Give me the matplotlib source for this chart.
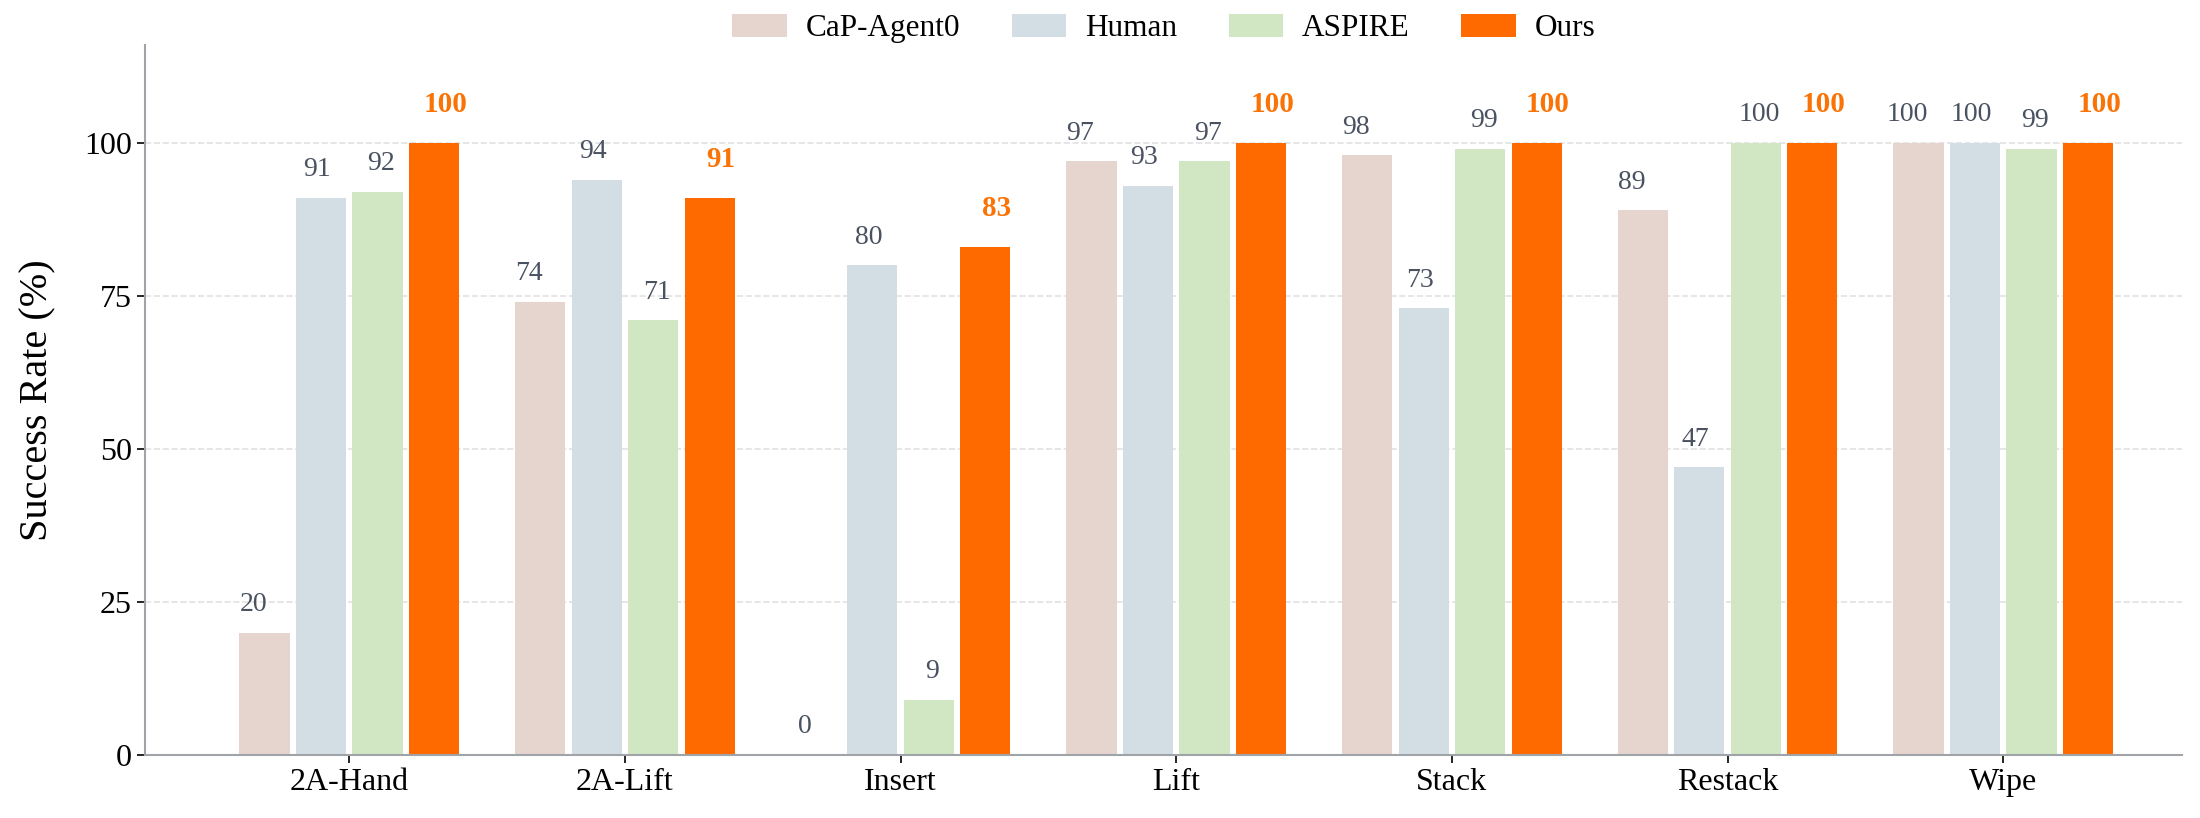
import numpy as np
import matplotlib.pyplot as plt

plt.rcParams['font.family'] = ['Liberation Serif', 'DejaVu Serif']

tasks = ['2A-Hand', '2A-Lift', 'Insert', 'Lift', 'Stack', 'Restack', 'Wipe']
methods = ['CaP-Agent0', 'Human', 'ASPIRE', 'Ours']
cap_agent0 = [20, 74, 0, 97, 98, 89, 100]
human = [91, 94, 80, 93, 73, 47, 100]
aspire = [92, 71, 9, 97, 99, 100, 99]
ours = [100, 91, 83, 100, 100, 100, 100]

colors = ['#e6d5cf', '#d3dde4', '#d1e6c3', '#ff6a00']
label_gray = '#4a5261'
orange_txt = '#f97306'

series = [cap_agent0, human, aspire, ours]
x = np.arange(len(tasks))
pitch = 0.205
width = 0.182

fig, ax = plt.subplots(figsize=(22, 8.18), dpi=100)
fig.subplots_adjust(left=0.066, right=0.992, bottom=0.077, top=0.945)

for i, (vals, name) in enumerate(zip(series, methods)):
    off = (i - 1.5) * pitch
    ax.bar(x + off, vals, width, color=colors[i], label=name, zorder=2)
    for xi, v in zip(x, vals):
        tx = xi + (i - 1.5) * 0.232
        if i == 3:
            ax.text(tx, v + 6.3, str(v), ha='center', va='center', fontsize=21,
                    fontweight='bold', color=orange_txt)
        else:
            ax.text(tx, v + 4.6, str(v), ha='center', va='center', fontsize=20,
                    color=label_gray)

ax.set_xlim(-0.74, 6.65)
ax.set_ylim(0, 116)
ax.set_yticks([0, 25, 50, 75, 100])
ax.set_xticks(x)
ax.set_xticklabels(tasks)
ax.tick_params(axis='both', labelsize=23, length=6, width=1.2, color='black')
ax.set_ylabel('Success Rate (%)', fontsize=29, labelpad=20)

ax.yaxis.grid(True, linestyle='--', color='#e2e2e2', linewidth=1.2, zorder=0)
ax.set_axisbelow(True)
for s in ['top', 'right']:
    ax.spines[s].set_visible(False)
for s in ['left', 'bottom']:
    ax.spines[s].set_color('#a0a4a8')
    ax.spines[s].set_linewidth(1.5)

ax.legend(loc='center', bbox_to_anchor=(0.5, 1.023), ncol=4, frameon=False,
          fontsize=22.5, handlelength=1.75, handleheight=0.75, handletextpad=0.6,
          columnspacing=1.65)

fig.savefig('out.png', dpi=100)
